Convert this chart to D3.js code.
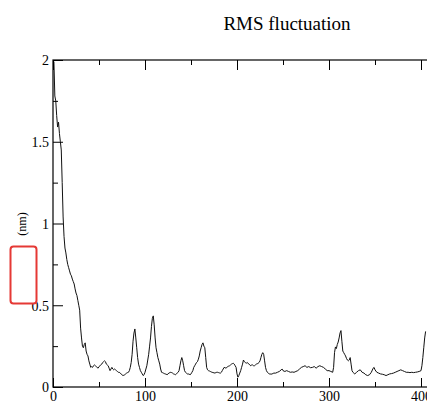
<!DOCTYPE html>
<html>
<head>
<meta charset="utf-8">
<script src="https://cdn.jsdelivr.net/npm/d3@7"></script>
<style>
html,body{margin:0;padding:0;background:#fff;overflow:hidden;}
svg{display:block;}
</style>
</head>
<body>
<script>
const titleText = "RMS fluctuation";
const yLabelText = "(nm)";
const xTickValues = [0, 100, 200, 300, 400];
const xMinorValues = [50, 150, 250, 350];
const yTickValues = [0, 0.5, 1, 1.5, 2];
const yTickLabels = ["0", "0.5", "1", "1.5", "2"];
const yMinorValues = [0.25, 0.75, 1.25, 1.75];

const residues = [1,2,3,4,5,6,7,8,9,10,11,12,13,14,15,16,17,18,19,20,21,22,23,24,25,26,27,28,29,30,
31,32,33,34,35,36,37,38,39,40,41,42,43,44,45,46,47,48,49,50,51,52,53,54,55,56,57,58,59,60,
61,62,63,64,65,66,67,68,69,70,71,72,73,74,75,76,77,78,79,80,81,82,83,84,85,86,87,88,89,90,
91,92,93,94,95,96,97,98,99,100,101,102,103,104,105,106,107,108,109,110,111,112,113,114,115,116,117,118,119,120,
121,122,123,124,125,126,127,128,129,130,131,132,133,134,135,136,137,138,139,140,141,142,143,144,145,146,147,148,149,150,
151,152,153,154,155,156,157,158,159,160,161,162,163,164,165,166,167,168,169,170,171,172,173,174,175,176,177,178,179,180,
181,182,183,184,185,186,187,188,189,190,191,192,193,194,195,196,197,198,199,200,201,202,203,204,205,206,207,208,209,210,
211,212,213,214,215,216,217,218,219,220,221,222,223,224,225,226,227,228,229,230,231,232,233,234,235,236,237,238,239,240,
242,244,246,248,249,250,252,254,256,258,260,262,264,266,268,270,272,274,276,278,280,282,284,286,288,290,292,294,296,298,300,302,304,
305,306,307,308,309,310,311,312,313,314,315,316,317,318,319,320,321,322,323,324,325,326,327,328,
330,332,334,336,338,340,342,344,346,348,349,350,352,354,356,358,360,362,364,366,368,370,372,374,376,378,380,382,384,386,388,390,392,394,396,398,400,
401,402,403,404,405];

const rmsf = [1.99,1.78,1.75,1.66,1.59,1.62,1.55,1.50,1.45,1.25,1.04,0.92,0.85,0.82,0.78,0.75,0.73,0.71,0.69,0.68,0.66,0.645,0.63,0.60,0.575,0.56,0.53,0.50,0.47,0.36,
0.30,0.25,0.24,0.26,0.27,0.22,0.20,0.19,0.16,0.14,0.12,0.125,0.12,0.13,0.135,0.13,0.125,0.12,0.115,0.125,0.13,0.135,0.14,0.15,0.155,0.16,0.155,0.14,0.135,0.13,
0.115,0.10,0.11,0.12,0.11,0.105,0.11,0.105,0.10,0.095,0.09,0.09,0.085,0.08,0.075,0.07,0.072,0.075,0.08,0.085,0.088,0.09,0.10,0.12,0.15,0.20,0.28,0.33,0.355,0.30,
0.24,0.18,0.14,0.12,0.10,0.09,0.08,0.07,0.075,0.09,0.11,0.13,0.165,0.20,0.25,0.30,0.37,0.42,0.435,0.38,0.30,0.24,0.21,0.18,0.16,0.14,0.11,0.09,0.088,0.085,
0.082,0.08,0.078,0.075,0.08,0.085,0.088,0.09,0.088,0.085,0.08,0.078,0.075,0.08,0.085,0.09,0.10,0.13,0.16,0.18,0.16,0.13,0.10,0.09,0.085,0.08,0.08,0.078,0.075,0.08,
0.09,0.10,0.12,0.13,0.14,0.15,0.155,0.17,0.19,0.22,0.24,0.26,0.27,0.25,0.24,0.18,0.12,0.105,0.10,0.098,0.095,0.092,0.09,0.088,0.087,0.085,0.088,0.09,0.09,0.088,
0.086,0.085,0.09,0.10,0.11,0.12,0.118,0.115,0.12,0.125,0.128,0.13,0.135,0.14,0.143,0.145,0.14,0.13,0.12,0.08,0.06,0.07,0.085,0.10,0.12,0.14,0.165,0.155,0.15,0.145,
0.15,0.145,0.14,0.135,0.13,0.135,0.135,0.13,0.13,0.135,0.14,0.142,0.145,0.15,0.16,0.18,0.20,0.21,0.20,0.16,0.12,0.10,0.09,0.085,0.08,0.08,0.078,0.08,0.082,0.085,
0.085,0.09,0.095,0.105,0.11,0.10,0.095,0.10,0.095,0.09,0.092,0.09,0.095,0.10,0.11,0.12,0.125,0.13,0.12,0.125,0.118,0.12,0.125,0.115,0.125,0.13,0.125,0.12,0.11,0.10,0.10,0.095,0.09,
0.12,0.21,0.245,0.235,0.26,0.275,0.30,0.33,0.345,0.28,0.22,0.21,0.20,0.19,0.175,0.165,0.16,0.165,0.18,0.14,0.10,0.09,0.085,0.08,
0.09,0.10,0.105,0.09,0.085,0.075,0.07,0.075,0.09,0.115,0.12,0.105,0.09,0.085,0.08,0.078,0.075,0.07,0.075,0.08,0.082,0.085,0.09,0.095,0.10,0.105,0.10,0.095,0.09,0.09,0.088,0.09,0.088,0.09,0.092,0.095,0.10,
0.13,0.18,0.24,0.30,0.34];

const W = 427, H = 402;
const svg = d3.select("body").append("svg").attr("width", W).attr("height", H);

const mLeft = 53, mTop = 60, mBottom = 387, mRight = 445;
const x = d3.scaleLinear().domain([0, 400]).range([mLeft, 421]);
const y = d3.scaleLinear().domain([0, 2]).range([mBottom, mTop]);

const serif = "'Liberation Serif','DejaVu Serif',serif";

// data line
const data = residues.map((r, i) => [r, rmsf[i]]);
svg.append("path")
  .datum(data)
  .attr("fill", "none")
  .attr("stroke", "#111")
  .attr("stroke-width", 1)
  .attr("stroke-linejoin", "round")
  .attr("d", d3.line().x(d => x(d[0])).y(d => y(d[1])));

// frame
svg.append("rect")
  .attr("x", mLeft).attr("y", mTop)
  .attr("width", mRight - mLeft).attr("height", mBottom - mTop)
  .attr("fill", "none").attr("stroke", "#000").attr("stroke-width", 1.2);

// axes with inward ticks
const gxb = svg.append("g").attr("transform", `translate(0,${mBottom})`)
  .call(d3.axisBottom(x).tickValues(xTickValues).tickSize(-9).tickFormat(d => d));
const gxbMinor = svg.append("g").attr("transform", `translate(0,${mBottom})`)
  .call(d3.axisBottom(x).tickValues(xMinorValues).tickSize(-5).tickFormat(""));
const gxt = svg.append("g").attr("transform", `translate(0,${mTop})`)
  .call(d3.axisTop(x).tickValues(xTickValues).tickSize(-10).tickFormat(""));
const gxtMinor = svg.append("g").attr("transform", `translate(0,${mTop})`)
  .call(d3.axisTop(x).tickValues(xMinorValues).tickSize(-5).tickFormat(""));
const gyl = svg.append("g").attr("transform", `translate(${mLeft},0)`)
  .call(d3.axisLeft(y).tickValues(yTickValues).tickSize(-10)
    .tickFormat((d, i) => yTickLabels[i]));
const gylMinor = svg.append("g").attr("transform", `translate(${mLeft},0)`)
  .call(d3.axisLeft(y).tickValues(yMinorValues).tickSize(-5).tickFormat(""));

[gxb, gxbMinor, gxt, gxtMinor, gyl, gylMinor].forEach(g => {
  g.select(".domain").remove();
  g.selectAll(".tick line").attr("stroke", "#000").attr("stroke-width", 1);
  g.selectAll(".tick text").attr("font-family", serif).attr("font-size", 14).attr("fill", "#000");
});
gyl.selectAll(".tick text").attr("dy", "0.35em").attr("x", -4);
gxb.selectAll(".tick text").attr("dy", "0").attr("y", 14);

// title
svg.append("text")
  .attr("x", 287).attr("y", 30)
  .attr("text-anchor", "middle")
  .attr("font-family", serif).attr("font-size", 19)
  .attr("fill", "#000")
  .text(titleText);

// y label
svg.append("text")
  .attr("transform", "translate(26,224) rotate(-90)")
  .attr("text-anchor", "middle")
  .attr("font-family", serif).attr("font-size", 12)
  .attr("fill", "#000")
  .text(yLabelText);

// redaction box
svg.append("rect")
  .attr("x", 10.5).attr("y", 246.5).attr("width", 26).attr("height", 57)
  .attr("rx", 3).attr("ry", 3)
  .attr("fill", "#fff").attr("stroke", "#e53935").attr("stroke-width", 2);
</script>
</body>
</html>
